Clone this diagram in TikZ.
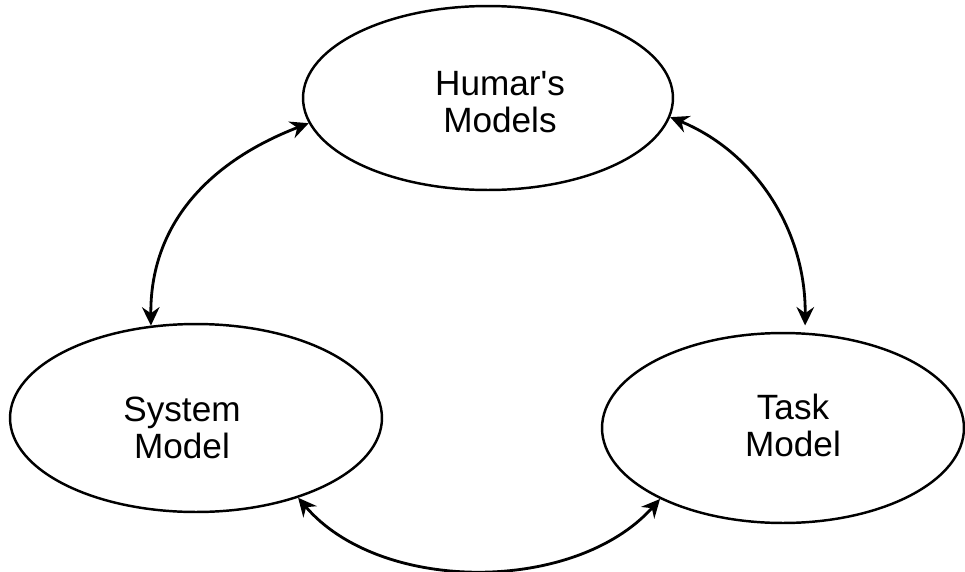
\documentclass[tikz,border=0pt]{standalone}
\usepackage{fontspec}
\setmainfont{Liberation Sans}
\usetikzlibrary{arrows.meta,shapes.geometric}
\begin{document}
\begin{tikzpicture}[x=0.02cm,y=-0.02cm,
  model/.style={draw, ellipse, line width=1.4pt, inner sep=0pt},
  lbl/.style={align=center, inner sep=0pt, font=\fontsize{20}{21}\selectfont},
  tip/.tip={Stealth[length=10.5pt,width=10pt,inset=3.5pt]},
  link/.style={line width=1.6pt, tip-tip}]
\useasboundingbox (0,0) rectangle (965,572);
\node[model, minimum width=7.4cm, minimum height=3.68cm] (hum) at (488,98) {};
\node[model, minimum width=7.44cm, minimum height=3.76cm] (sys) at (196,418) {};
\node[model, minimum width=7.24cm, minimum height=3.8cm] (task) at (783,428) {};
\node[lbl] (humt) at (500,102) {Humar\textquotesingle s\\Models};
\node[lbl] (syst) at (182,428) {System\\Model};
\node[lbl] (taskt) at (793,425) {Task\\Model};
\draw[link] (sys.116) .. controls (150,225) and (208,162) .. (hum.188);
\draw[link, shorten >=4pt] (hum.354) .. controls (755,152) and (806,230) .. (task.77.6);
\draw[link] (sys.322) .. controls (380,594) and (575,594) .. (task.210.5);
\end{tikzpicture}
\end{document}
